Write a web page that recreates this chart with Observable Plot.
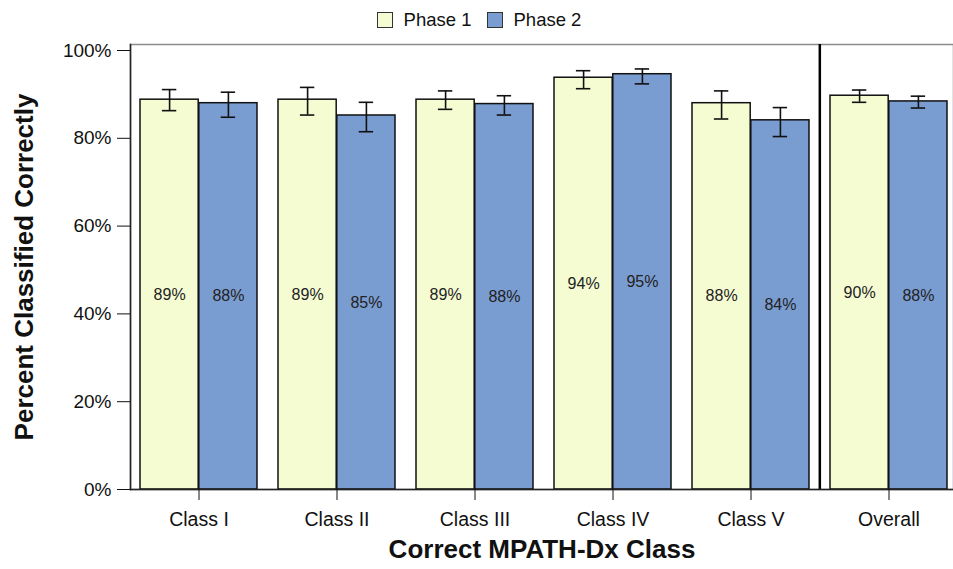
<!DOCTYPE html>
<html>
<head>
<meta charset="utf-8">
<script src="https://cdn.jsdelivr.net/npm/d3@7"></script>
<script src="https://cdn.jsdelivr.net/npm/@observablehq/plot@0.6"></script>
<style>
  html, body { margin: 0; padding: 0; background: #fff; }
  body { width: 953px; height: 569px; overflow: hidden; font-family: "Liberation Sans", Arial, sans-serif; }
  #legend { height: 28px; padding-top: 6px; display: flex; justify-content: center; align-items: center; font-size: 18.5px; color: #111; padding-left: 20px; }
  .sw { width: 14px; height: 14px; border: 1px solid #333; display: inline-block; margin-right: 11px; }
  .item { display: flex; align-items: center; margin-right: 15px; }
</style>
</head>
<body>
<div id="legend"></div>
<div id="chart"></div>
<script>
// ---- data ----
const categories = ["Class I", "Class II", "Class III", "Class IV", "Class V", "Overall"];
const phases = ["Phase 1", "Phase 2"];
const colors = ["#f5fcd2", "#7a9dd1"];
const phase1 = [88.8, 88.8, 88.8, 93.8, 88.0, 89.7];
const phase2 = [88.0, 85.2, 87.8, 94.6, 84.1, 88.4];
const phase1Lo = [86.3, 85.3, 86.6, 91.3, 84.4, 88.2];
const phase1Hi = [91.1, 91.6, 90.8, 95.4, 90.8, 91.0];
const phase2Lo = [84.8, 81.5, 85.3, 92.4, 80.4, 86.9];
const phase2Hi = [90.5, 88.2, 89.7, 95.8, 87.0, 89.6];
const yTicks = [0, 20, 40, 60, 80, 100];

const rows = [];
categories.forEach((c, i) => {
  rows.push({cat: c, phase: phases[0], value: phase1[i], lo: phase1Lo[i], hi: phase1Hi[i]});
  rows.push({cat: c, phase: phases[1], value: phase2[i], lo: phase2Lo[i], hi: phase2Hi[i]});
});
const p1 = rows.filter(d => d.phase === phases[0]);
const p2 = rows.filter(d => d.phase === phases[1]);

// ---- legend ----
const leg = document.getElementById("legend");
phases.forEach((p, i) => {
  const it = document.createElement("span");
  it.className = "item";
  const sw = document.createElement("span");
  sw.className = "sw";
  sw.style.background = colors[i];
  it.appendChild(sw);
  it.appendChild(document.createTextNode(p));
  leg.appendChild(it);
});

// ---- layout ----
const W = 953, H = 535;
const xRange = [130, 958];
const pIn = 0.15, pOut = 0.067;
const step = (xRange[1] - xRange[0]) / (categories.length - pIn + 2 * pOut);
const bw = step * (1 - pIn);
const capW = 15;
const font = '"Liberation Sans", Arial, sans-serif';

const chart = Plot.plot({
  width: W,
  height: H,
  marginLeft: 130,
  marginRight: 0,
  marginTop: 10,
  marginBottom: 80,
  style: {fontFamily: font, fontSize: "19px", color: "#111", background: "#fff"},
  x: {type: "band", domain: categories, range: xRange, paddingInner: pIn, paddingOuter: pOut, align: 0.5},
  y: {domain: [0, 101.37]},
  marks: [
    Plot.frame({stroke: "#8c8c8c", strokeWidth: 1.5}),
    // bars
    Plot.barY(p1, {x: "cat", y: "value", fill: colors[0], stroke: "#111", strokeWidth: 1.5, insetRight: bw / 2}),
    Plot.barY(p2, {x: "cat", y: "value", fill: colors[1], stroke: "#111", strokeWidth: 1.5, insetLeft: bw / 2}),
    // error bars
    Plot.ruleX(p1, {x: "cat", y1: "lo", y2: "hi", dx: -bw / 4, stroke: "#111", strokeWidth: 1.6}),
    Plot.ruleX(p2, {x: "cat", y1: "lo", y2: "hi", dx: bw / 4, stroke: "#111", strokeWidth: 1.6}),
    Plot.tickY(p1, {x: "cat", y: "lo", insetLeft: bw / 4 - capW / 2, insetRight: 3 * bw / 4 - capW / 2, stroke: "#111", strokeWidth: 1.6}),
    Plot.tickY(p1, {x: "cat", y: "hi", insetLeft: bw / 4 - capW / 2, insetRight: 3 * bw / 4 - capW / 2, stroke: "#111", strokeWidth: 1.6}),
    Plot.tickY(p2, {x: "cat", y: "lo", insetLeft: 3 * bw / 4 - capW / 2, insetRight: bw / 4 - capW / 2, stroke: "#111", strokeWidth: 1.6}),
    Plot.tickY(p2, {x: "cat", y: "hi", insetLeft: 3 * bw / 4 - capW / 2, insetRight: bw / 4 - capW / 2, stroke: "#111", strokeWidth: 1.6}),
    // value labels
    Plot.text(p1, {x: "cat", y: d => d.value / 2, text: d => Math.round(d.value) + "%", dx: -bw / 4, fontSize: 16, fill: "#222"}),
    Plot.text(p2, {x: "cat", y: d => d.value / 2, text: d => Math.round(d.value) + "%", dx: bw / 4, fontSize: 16, fill: "#222"}),
    // separator before Overall
    Plot.ruleX([categories[categories.length - 1]], {x: d => d, dx: -step / 2, stroke: "#000", strokeWidth: 2.5}),
    // axes
    Plot.frame({anchor: "left", stroke: "#222", strokeWidth: 1.5}),
    Plot.frame({anchor: "bottom", stroke: "#222", strokeWidth: 1.5}),
    Plot.axisY({ticks: yTicks, tickFormat: d => d + "%", tickSize: 13, tickPadding: 6, label: null, fontSize: 19}),
    Plot.axisX({tickSize: 11, tickPadding: 12, label: null, fontSize: 19.5}),
    // axis titles
    Plot.text(["Percent Classified Correctly"], {frameAnchor: "left", text: d => d, rotate: -90, textAnchor: "middle", dx: -106, fontSize: 26, fontWeight: "bold", fill: "#111"}),
    Plot.text(["Correct MPATH-Dx Class"], {frameAnchor: "bottom", text: d => d, textAnchor: "middle", dy: 68, fontSize: 26, fontWeight: "bold", fill: "#111"})
  ]
});
document.getElementById("chart").appendChild(chart);
</script>
</body>
</html>
